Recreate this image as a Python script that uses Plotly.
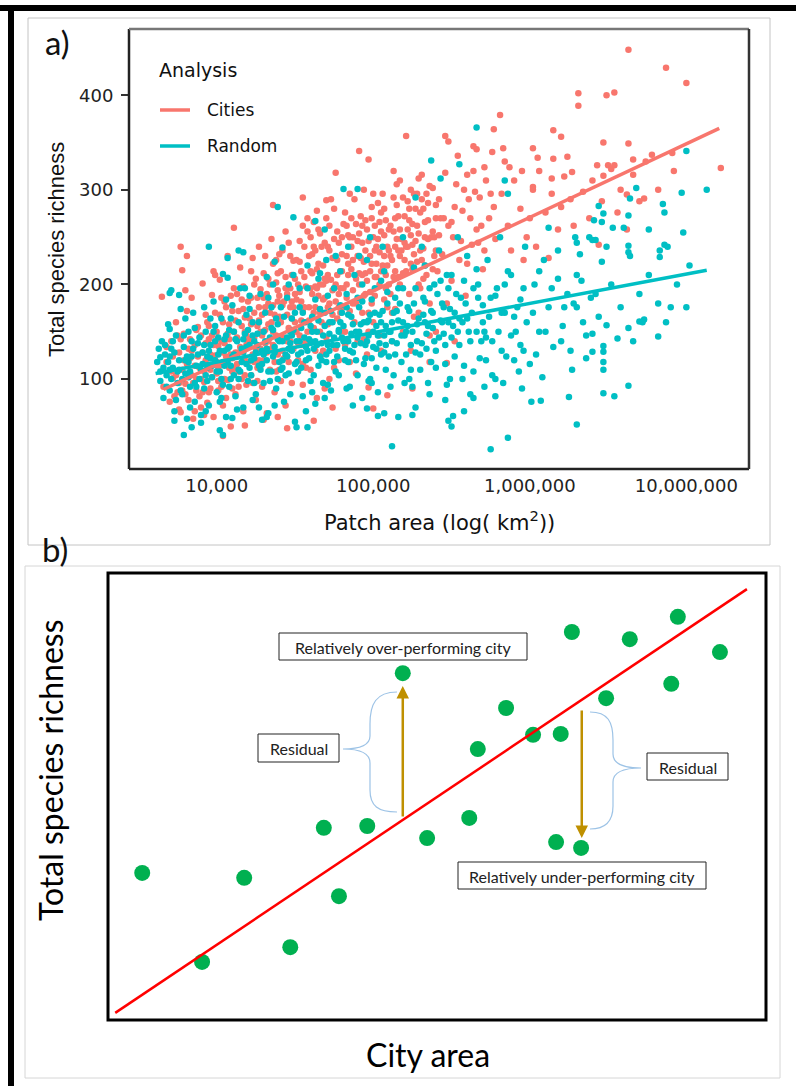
import plotly.graph_objects as go

W, H = 796, 1086
def px(x): return x / W
def py(y): return 1 - y / H

# ---------------- Panel a data: (log10 patch area km2, total species richness) ----------------
cities_points = [
    # sparse upper / right points
    (6.63,448),(6.87,429),(7.00,413),(6.31,402),(6.31,389),(6.49,400),(6.54,403),(5.81,379),(5.77,364),
    (6.15,363),(6.20,356),(5.46,357),(5.48,351),(5.21,357),(5.64,346),(5.66,343),(5.83,344),(6.02,344),
    (6.47,350),(6.63,349),(6.05,334),(6.15,333),(6.24,335),(6.78,337),(6.91,339),(6.66,332),(7.22,323),
    (5.71,324),(6.43,326),(6.50,326),(6.54,326),(5.95,320),(5.87,324),(5.60,316),(6.27,319),(6.14,312),
    (6.47,315),(6.62,295),(6.73,291),(6.02,303),(4.91,341),(4.97,332),(4.76,318),(5.13,320),(3.77,240),
    (3.81,230),(3.78,215),(3.65,187),(3.80,194),(3.91,201),(4.11,260),(4.36,284),(4.55,292),(4.70,289),
    (3.98,214),(4.07,230),(4.04,40),(4.18,51),(4.74,70),(4.30,57),(4.39,60),(4.62,56),(3.76,68),(3.92,62),
    (4.45,48),(5.00,69),(4.97,91),(5.09,83),(5.25,90),(5.36,118),(5.47,117),(5.52,140),(5.40,150),
    # 3.65 - 3.9
    (3.66,92),(3.68,118),(3.70,76),(3.71,140),(3.72,101),(3.74,160),(3.75,86),(3.76,128),(3.77,65),
    (3.78,110),(3.79,148),(3.80,95),(3.81,172),(3.82,78),(3.83,122),(3.84,104),(3.85,58),(3.86,136),
    (3.87,88),(3.88,155),(3.89,112),(3.90,70),(3.68,134),(3.73,82),(3.79,120),(3.84,186),(3.87,100),
    (3.71,108),(3.76,96),(3.83,142),(3.89,82),(3.86,66),
    # 3.9 - 4.2
    (3.91,128),(3.92,97),(3.93,168),(3.94,75),(3.95,142),(3.96,110),(3.97,189),(3.98,60),(3.99,125),
    (4.00,150),(4.01,88),(4.02,205),(4.03,115),(4.04,72),(4.05,138),(4.06,176),(4.07,99),(4.08,158),
    (4.09,50),(4.10,122),(4.11,196),(4.12,84),(4.13,144),(4.14,108),(4.15,218),(4.16,130),(4.17,66),
    (4.18,165),(4.19,94),(4.20,182),(3.93,120),(3.97,102),(4.01,135),(4.04,160),(4.08,112),(4.12,128),
    (4.16,100),(4.19,146),(3.95,86),(4.06,80),(4.14,172),(3.99,210),(4.03,92),(4.11,150),(4.17,198),
    (4.00,106),(4.09,188),(4.18,120),
    # 4.2 - 4.5
    (4.21,142),(4.22,104),(4.23,228),(4.24,170),(4.25,78),(4.26,156),(4.27,120),(4.28,195),(4.29,92),
    (4.30,212),(4.31,138),(4.32,64),(4.33,180),(4.34,110),(4.35,248),(4.36,150),(4.37,86),(4.38,202),
    (4.39,126),(4.40,166),(4.41,98),(4.42,236),(4.43,144),(4.44,72),(4.45,190),(4.46,118),(4.47,176),
    (4.48,210),(4.49,132),(4.50,160),(4.22,186),(4.25,132),(4.28,150),(4.31,176),(4.34,200),(4.37,168),
    (4.40,188),(4.43,122),(4.46,154),(4.49,225),(4.24,118),(4.29,168),(4.33,140),(4.38,108),(4.41,214),
    (4.45,140),(4.48,96),(4.27,240),(4.36,222),(4.44,256),(4.23,96),(4.32,128),(4.39,182),(4.47,196),
    # 4.5 - 4.8
    (4.51,184),(4.52,120),(4.53,246),(4.54,162),(4.55,94),(4.56,208),(4.57,140),(4.58,270),(4.59,176),
    (4.60,110),(4.61,232),(4.62,154),(4.63,198),(4.64,80),(4.65,258),(4.66,170),(4.67,126),(4.68,220),
    (4.69,186),(4.70,144),(4.71,240),(4.72,100),(4.73,205),(4.74,168),(4.75,280),(4.76,132),(4.77,226),
    (4.78,190),(4.79,150),(4.80,250),(4.52,200),(4.55,172),(4.58,150),(4.61,190),(4.64,216),(4.67,240),
    (4.70,204),(4.73,160),(4.76,182),(4.79,214),(4.54,136),(4.60,250),(4.66,200),(4.72,262),(4.78,120),
    (4.57,112),(4.63,130),(4.69,90),(4.75,112),(4.53,224),(4.62,266),(4.71,176),(4.77,256),
    # 4.8 - 5.1
    (4.81,196),(4.82,150),(4.83,262),(4.84,222),(4.85,118),(4.86,240),(4.87,180),(4.88,290),(4.89,206),
    (4.90,140),(4.91,254),(4.92,228),(4.93,170),(4.94,300),(4.95,212),(4.96,126),(4.97,246),(4.98,192),
    (4.99,270),(5.00,160),(5.01,236),(5.02,208),(5.03,286),(5.04,146),(5.05,256),(5.06,220),(5.07,184),
    (5.08,268),(5.09,240),(5.10,200),(4.83,230),(4.87,250),(4.91,200),(4.95,236),(4.99,222),(5.03,248),
    (5.07,230),(4.85,172),(4.93,262),(5.01,188),(5.09,176),(4.89,106),(4.97,150),(5.05,130),(4.82,276),
    (4.94,188),(5.06,296),(4.88,160),(5.00,250),
    # 5.1 - 5.4
    (5.11,262),(5.12,226),(5.13,292),(5.14,174),(5.15,248),(5.16,208),(5.17,310),(5.18,236),(5.19,150),
    (5.20,272),(5.21,214),(5.22,258),(5.23,190),(5.24,300),(5.25,242),(5.26,166),(5.27,280),(5.28,224),
    (5.29,254),(5.30,196),(5.31,316),(5.32,238),(5.33,266),(5.34,210),(5.35,286),(5.36,180),(5.37,250),
    (5.38,302),(5.39,230),(5.40,270),(5.14,240),(5.20,244),(5.26,232),(5.32,280),(5.38,216),(5.17,200),
    (5.23,268),(5.29,170),(5.35,248),(5.12,140),(5.24,130),(5.36,146),(5.15,284),(5.28,296),(5.40,236),
    # 5.4 - 5.8
    (5.42,290),(5.44,232),(5.46,318),(5.48,262),(5.50,204),(5.52,282),(5.54,336),(5.56,246),(5.58,300),
    (5.60,222),(5.62,270),(5.64,320),(5.66,258),(5.68,292),(5.70,216),(5.72,310),(5.74,270),(5.76,340),
    (5.78,248),(5.45,270),(5.51,250),(5.57,278),(5.63,242),(5.69,262),(5.75,296),(5.47,180),(5.59,188),
    (5.71,236),(5.53,306),(5.65,298),(5.77,282),
    # 5.8 - 6.3
    (5.82,296),(5.86,262),(5.90,310),(5.94,280),(5.98,250),(6.02,300),(6.06,320),(6.10,276),(6.14,296),
    (6.18,258),(6.22,314),(6.26,290),(5.88,236),(5.96,226),(6.04,240),(6.12,228),(6.20,282),(6.28,262),
    (5.84,330),(6.00,270),
    # 6.3 - 7.3
    (6.34,298),(6.40,310),(6.46,288),(6.52,322),(6.58,300),(6.66,316),(6.74,330),(6.82,300),(6.38,270),
    (6.56,276),(6.70,288),(6.92,320),(6.44,242),(6.62,258),
    # dense core, second reading
    (3.74,104),(3.77,142),(3.80,84),(3.82,132),(3.85,96),(3.88,124),(3.90,146),(3.92,108),(3.94,160),(3.96,90),
    (3.98,136),(4.00,118),(4.02,168),(4.03,140),(4.05,100),(4.07,148),(4.09,126),(4.10,172),(4.12,112),(4.13,190),
    (4.15,134),(4.16,156),(4.18,104),(4.20,140),(4.21,164),(4.23,126),(4.24,200),(4.26,112),(4.27,176),(4.29,146),
    (4.30,120),(4.32,190),(4.33,158),(4.35,132),(4.36,178),(4.38,146),(4.39,212),(4.41,160),(4.42,130),(4.44,196),
    (4.45,168),(4.47,140),(4.48,182),(4.50,206),(4.51,150),(4.53,192),(4.54,214),(4.56,176),(4.57,160),(4.59,230),
    (4.60,196),(4.62,170),(4.63,236),(4.65,188),(4.66,150),(4.68,200),(4.69,244),(4.71,210),(4.72,180),(4.74,228),
    (4.75,196),(4.77,164),(4.78,244),(4.80,214),(4.81,176),(4.83,200),(4.84,252),(4.86,216),(4.87,194),(4.89,264),
    (4.90,230),(4.92,184),(4.93,244),(4.95,268),(4.96,204),(4.98,230),(4.99,180),(5.01,262),(5.02,222),(5.04,200),
    (5.05,276),(5.07,252),(5.08,210),(5.10,236),(5.11,190),(5.13,256),(5.14,214),(5.16,272),(5.18,248),(5.19,212),
    (5.21,240),(5.22,288),(5.24,222),(5.25,264),(5.27,246),(5.29,200),(5.30,276),(5.31,226),(5.33,250),(5.34,296),
    (4.05,182),(4.22,214),(4.31,230),(4.46,244),(4.58,256),(4.64,278),(4.73,290),(4.85,296),(4.10,90),(4.26,98),
    (4.40,110),(4.55,116),(4.68,130),(4.82,136),(4.94,142),(5.12,170),(3.95,156),(4.17,174),(4.43,182),(4.61,212),
    (4.76,200),(4.91,212),(5.04,234),(5.17,230),(5.32,206),(5.42,252),(5.50,266),(5.55,226),(5.61,290),(5.67,244),
    (3.86,114),(3.91,86),(4.01,98),(4.14,92),(4.28,132),(4.37,118),(4.52,138),(4.67,160),(4.79,170),(4.97,170),
    # dense core, third reading
    (3.72,124),(3.75,146),(3.78,88),(3.81,116),(3.84,130),(3.87,152),(3.90,100),(3.93,138),(3.96,126),(3.99,170),
    (4.01,112),(4.03,186),(4.06,124),(4.08,142),(4.10,108),(4.12,162),(4.14,128),(4.16,184),(4.18,150),(4.20,118),
    (4.22,158),(4.24,144),(4.25,206),(4.27,162),(4.28,114),(4.30,186),(4.31,152),(4.33,206),(4.34,170),(4.36,136),
    (4.38,226),(4.39,194),(4.41,142),(4.42,178),(4.44,208),(4.45,124),(4.47,230),(4.48,164),(4.50,190),(4.51,226),
    (4.53,146),(4.54,182),(4.56,240),(4.57,198),(4.59,162),(4.60,214),(4.62,240),(4.63,176),(4.65,222),(4.66,254),
    (4.68,184),(4.69,206),(4.71,158),(4.72,236),(4.74,194),(4.75,248),(4.77,210),(4.78,176),(4.80,232),(4.81,264),
    (4.83,186),(4.84,210),(4.86,270),(4.87,226),(4.89,180),(4.90,246),(4.92,272),(4.93,210),(4.95,190),(4.96,258),
    (4.98,214),(4.99,282),(5.01,208),(5.02,240),(5.04,266),(5.05,214),(5.07,280),(5.08,196),(5.10,258),(5.11,230),
    (5.13,208),(5.14,270),(5.16,236),(5.17,258),(5.19,292),(5.20,226),(5.22,240),(5.23,280),(5.25,216),(5.26,296),
    (5.28,262),(5.30,236),(5.31,290),(5.33,220),(5.35,268),(5.36,304),(5.38,256),(5.40,284),(5.41,214),(5.43,270),
    (4.04,128),(4.19,136),(4.35,160),(4.49,176),(4.64,196),(4.79,196),(4.94,224),(5.09,220),(5.24,252),(5.39,250),
    (3.97,146),(4.13,116),(4.26,186),(4.40,232),(4.55,262),(4.70,270),(4.85,250),(5.00,296),(5.15,306),(5.29,312),
]

random_points = [
    # sparse / outlying points
    (5.66,366),(5.37,331),(5.55,327),(7.00,341),(6.68,302),(7.13,300),(6.97,297),(5.43,312),(5.84,310),
    (5.86,296),(6.64,291),(6.85,285),(6.86,276),(6.44,283),(6.47,275),(6.63,273),(6.98,255),(6.76,258),
    (6.86,242),(6.83,229),(6.83,236),(6.63,234),(6.63,241),(6.40,247),(6.42,247),(6.53,260),(6.29,250),
    (6.30,244),(6.49,240),(6.41,268),(6.46,266),(7.00,176),(6.87,160),(6.70,161),(6.73,163),(6.63,154),
    (6.66,140),(6.82,145),(6.56,143),(6.49,157),(6.40,148),(6.47,135),(6.47,129),(6.40,129),(6.47,118),
    (6.47,110),(6.63,93),(6.47,85),(6.54,82),(6.30,52),(6.25,81),(5.86,38),(5.75,26),(6.07,77),(6.01,76),
    (5.78,82),(5.62,84),(5.64,80),(5.58,66),(5.51,61),(5.48,56),(5.50,50),(5.46,78),(5.27,70),(5.25,62),
    (5.12,29),(5.16,60),(5.07,64),(5.03,61),(4.96,69),(3.79,41),(4.04,41),(3.70,153),(3.64,123),(3.84,49),
    (3.90,54),(4.02,46),(4.10,59),(4.29,57),(4.32,60),(4.50,55),(4.58,49),(4.51,49),(3.95,240),(4.39,282),
    (4.49,271),(4.63,267),(4.69,258),(4.14,236),(4.17,234),(3.71,194),(3.76,189),(3.70,191),(4.07,228),
    (4.04,211),(4.07,207),(4.42,239),(4.37,224),(4.81,301),(4.90,301),(5.27,292),
    # 3.6 - 3.9
    (3.62,118),(3.64,98),(3.65,140),(3.66,80),(3.67,126),(3.68,104),(3.69,158),(3.70,88),(3.71,132),
    (3.72,112),(3.73,66),(3.74,146),(3.75,96),(3.76,120),(3.77,174),(3.78,84),(3.79,134),(3.80,106),
    (3.81,58),(3.82,150),(3.83,92),(3.84,124),(3.85,170),(3.86,76),(3.87,114),(3.88,138),(3.89,100),
    (3.90,62),(3.70,110),(3.78,100),(3.86,154),(3.63,132),(3.74,78),(3.82,118),
    # 3.9 - 4.2
    (3.91,128),(3.92,90),(3.93,150),(3.94,112),(3.95,72),(3.96,136),(3.97,102),(3.98,182),(3.99,120),
    (4.00,86),(4.01,144),(4.02,108),(4.03,164),(4.04,94),(4.05,130),(4.06,60),(4.07,118),(4.08,152),
    (4.09,100),(4.10,178),(4.11,126),(4.12,82),(4.13,140),(4.14,110),(4.15,196),(4.16,132),(4.17,70),
    (4.18,148),(4.19,116),(4.20,98),(3.94,124),(3.99,140),(4.05,114),(4.11,104),(4.17,128),(4.02,76),
    (4.14,160),(3.96,164),(4.08,134),(4.19,168),
    # 4.2 - 4.5
    (4.21,136),(4.22,104),(4.23,160),(4.24,122),(4.25,84),(4.26,148),(4.27,114),(4.28,190),(4.29,130),
    (4.30,96),(4.31,170),(4.32,120),(4.33,64),(4.34,144),(4.35,108),(4.36,200),(4.37,134),(4.38,90),
    (4.39,158),(4.40,118),(4.41,176),(4.42,140),(4.43,76),(4.44,126),(4.45,186),(4.46,106),(4.47,150),
    (4.48,130),(4.49,210),(4.50,116),(4.24,140),(4.30,126),(4.36,152),(4.42,112),(4.48,164),(4.27,70),
    (4.39,100),(4.45,144),(4.33,186),(4.21,174),
    # 4.5 - 4.8
    (4.51,140),(4.52,108),(4.53,176),(4.54,128),(4.55,82),(4.56,160),(4.57,120),(4.58,196),(4.59,142),
    (4.60,98),(4.61,166),(4.62,132),(4.63,74),(4.64,150),(4.65,114),(4.66,212),(4.67,138),(4.68,96),
    (4.69,170),(4.70,126),(4.71,188),(4.72,148),(4.73,88),(4.74,160),(4.75,118),(4.76,230),(4.77,136),
    (4.78,104),(4.79,178),(4.80,144),(4.54,154),(4.60,140),(4.66,124),(4.72,130),(4.78,152),(4.57,66),
    (4.69,80),(4.75,196),(4.63,184),
    # 4.8 - 5.1
    (4.81,156),(4.82,120),(4.83,190),(4.84,140),(4.85,92),(4.86,166),(4.87,128),(4.88,210),(4.89,150),
    (4.90,104),(4.91,176),(4.92,138),(4.93,80),(4.94,160),(4.95,122),(4.96,226),(4.97,146),(4.98,100),
    (4.99,184),(5.00,134),(5.01,196),(5.02,156),(5.03,86),(5.04,168),(5.05,126),(5.06,240),(5.07,146),
    (5.08,110),(5.09,180),(5.10,150),(4.84,168),(4.90,144),(4.96,160),(5.02,132),(5.08,136),(4.87,72),
    (4.99,96),(5.05,204),(4.93,200),
    # 5.1 - 5.5
    (5.12,160),(5.14,126),(5.16,196),(5.18,146),(5.20,96),(5.22,176),(5.24,136),(5.26,218),(5.28,158),
    (5.30,110),(5.32,186),(5.34,148),(5.36,84),(5.38,170),(5.40,130),(5.42,236),(5.44,160),(5.46,116),
    (5.48,196),(5.50,144),(5.15,172),(5.21,150),(5.27,128),(5.33,160),(5.39,200),(5.45,176),(5.13,104),
    (5.25,92),(5.37,118),(5.49,100),(5.19,250),(5.31,240),(5.43,204),
    # 5.5 - 6.0
    (5.52,170),(5.55,136),(5.58,204),(5.61,150),(5.64,108),(5.67,186),(5.70,160),(5.73,226),(5.76,140),
    (5.79,196),(5.82,170),(5.85,124),(5.88,210),(5.91,150),(5.94,184),(5.97,240),(5.54,250),(5.60,230),
    (5.66,216),(5.72,120),(5.78,100),(5.84,200),(5.90,166),(5.96,130),(5.57,160),(5.69,140),(5.81,250),
    (5.93,108),
    # 6.0 - 6.5
    (6.02,170),(6.06,214),(6.10,150),(6.14,196),(6.18,236),(6.22,176),(6.26,130),(6.30,210),(6.34,160),
    (6.38,250),(6.42,190),(6.46,224),(6.04,126),(6.12,260),(6.20,140),(6.28,180),(6.36,122),(6.44,166),
    (6.08,102),(6.32,232),
    # 6.5 - 7.1
    (6.52,200),(6.58,176),(6.64,230),(6.70,190),(6.76,210),(6.82,180),(6.88,240),(6.94,200),(7.02,220),
    (6.60,260),(6.72,160),(6.90,176),
    # dense core, second reading
    (3.66,112),(3.68,92),(3.70,124),(3.72,140),(3.75,108),(3.77,88),(3.80,120),(3.82,102),(3.84,140),(3.86,96),
    (3.88,126),(3.90,110),(3.92,136),(3.94,98),(3.96,122),(3.98,150),(4.00,108),(4.02,130),(4.04,118),(4.06,146),
    (4.08,92),(4.10,124),(4.12,142),(4.14,100),(4.16,118),(4.18,132),(4.20,152),(4.22,120),(4.24,96),(4.26,136),
    (4.28,110),(4.30,150),(4.32,132),(4.34,98),(4.36,124),(4.38,164),(4.40,140),(4.42,120),(4.44,104),(4.46,132),
    (4.48,146),(4.50,170),(4.52,126),(4.54,112),(4.56,144),(4.58,130),(4.60,156),(4.62,104),(4.64,136),(4.66,174),
    (4.68,146),(4.70,118),(4.72,160),(4.74,136),(4.76,108),(4.78,150),(4.80,170),(4.82,132),(4.84,118),(4.86,148),
    (4.88,136),(4.90,186),(4.92,158),(4.94,116),(4.96,140),(4.98,168),(5.00,150),(5.02,112),(5.04,138),(5.06,172),
    (5.08,156),(5.10,124),(5.12,140),(5.14,186),(5.16,162),(5.18,118),(5.20,146),(5.22,156),(5.24,110),(5.26,180),
    (5.28,140),(5.30,126),(5.32,168),(5.34,132),(5.36,196),(5.38,154),(5.40,112),(5.42,144),(5.44,180),(5.46,136),
    (5.48,160),(5.50,210),(5.52,124),(5.54,150),(5.56,186),(5.58,114),(5.60,164),(5.62,140),(5.64,196),(5.66,150),
    (5.68,122),(5.70,178),(5.72,144),(5.74,166),(5.76,104),(5.78,188),(5.80,150),(5.82,130),(5.84,170),(5.86,214),
    (5.88,146),(5.90,120),(5.92,176),(5.94,136),(5.96,196),(5.98,160),(6.00,116),(6.03,200),(6.06,150),(6.09,226),
    (6.12,176),(6.15,134),(6.18,206),(6.21,156),(6.24,190),(6.27,110),(6.30,176),(6.33,204),(6.36,146),(6.39,186),
    (3.73,56),(3.83,70),(3.93,66),(4.03,80),(4.13,68),(4.23,78),(4.37,72),(4.47,84),(4.61,86),(4.71,94),
    (4.83,90),(4.97,98),(5.11,92),(5.23,100),(5.35,96),(5.47,94),(5.57,100),(5.71,92),(5.83,96),(5.95,90),
    (4.09,164),(4.21,188),(4.35,176),(4.53,196),(4.65,206),(4.79,214),(4.91,230),(5.07,214),(5.19,196),(5.33,220),
    # dense core, third reading
    (3.64,108),(3.67,136),(3.69,118),(3.71,100),(3.73,128),(3.76,110),(3.79,146),(3.81,124),(3.83,108),(3.85,132),
    (3.87,92),(3.89,144),(3.91,116),(3.93,104),(3.95,130),(3.97,114),(3.99,156),(4.01,126),(4.03,100),(4.05,142),
    (4.07,132),(4.09,114),(4.11,150),(4.13,124),(4.15,108),(4.17,142),(4.19,134),(4.21,112),(4.23,146),(4.25,128),
    (4.27,160),(4.29,116),(4.31,140),(4.33,108),(4.35,154),(4.37,128),(4.39,142),(4.41,110),(4.43,166),(4.45,124),
    (4.47,138),(4.49,152),(4.51,118),(4.53,140),(4.55,170),(4.57,134),(4.59,122),(4.61,150),(4.63,140),(4.65,162),
    (4.67,120),(4.69,156),(4.71,136),(4.73,172),(4.75,144),(4.77,124),(4.79,160),(4.81,140),(4.83,176),(4.85,130),
    (4.87,158),(4.89,120),(4.91,150),(4.93,182),(4.95,136),(4.97,162),(4.99,122),(5.01,170),(5.03,146),(5.05,160),
    (5.07,128),(5.09,192),(5.11,150),(5.13,170),(5.15,138),(5.17,180),(5.19,160),(5.21,126),(5.23,172),(5.25,150),
    (5.27,196),(5.29,164),(5.31,138),(5.33,182),(5.35,156),(5.37,172),(5.39,140),(5.41,190),(5.43,162),(5.45,148),
    (5.47,210),(5.49,174),(5.51,156),(5.53,190),(5.55,164),(5.59,180),(5.63,170),(5.67,200),(5.71,150),(5.75,186),
    (3.80,164),(3.92,176),(4.06,184),(4.18,196),(4.32,208),(4.46,200),(4.58,220),(4.70,226),(4.84,240),(4.98,250),
]

cities_fit_log = [3.66, 7.21]
cities_fit_y = [89, 365]
random_fit_log = [3.61, 7.13]
random_fit_y = [106, 215]

x_tick_vals = [1e4, 1e5, 1e6, 1e7]
x_tick_text = ["10,000", "100,000", "1,000,000", "10,000,000"]
y_tick_vals = [100, 200, 300, 400]

# ---------------- Panel b data (schematic units 0-100) ----------------
city_area = [5.2, 14.3, 20.7, 27.7, 32.8, 35.1, 39.4, 44.8, 48.5, 54.9, 56.2,
             60.5, 64.6, 68.8, 68.1, 71.9, 70.5, 75.7, 79.3, 85.6, 86.6, 93.0]
city_richness = [32.9, 13.0, 31.8, 16.3, 43.0, 27.7, 43.4, 77.6, 40.7, 45.2, 60.6,
                 69.8, 63.8, 64.0, 39.8, 38.5, 86.8, 72.0, 85.2, 75.2, 90.2, 82.3]
fit_b_x = [1.1, 97.1]
fit_b_y = [1.6, 96.4]
over_city = (44.8, 45.2, 74.7)    # x, residual start, residual end
under_city = (72.0, 69.6, 40.7)

RED = "#F8766D"
TEAL = "#00BFC4"

fig = go.Figure()

fig.add_trace(go.Scatter(
    x=[10 ** a for a, _ in cities_points], y=[r for _, r in cities_points],
    mode="markers", marker=dict(color=RED, size=6.5, line=dict(width=0)),
    xaxis="x", yaxis="y", showlegend=False, hoverinfo="skip"))
fig.add_trace(go.Scatter(
    x=[10 ** a for a, _ in random_points], y=[r for _, r in random_points],
    mode="markers", marker=dict(color=TEAL, size=6.5, line=dict(width=0)),
    xaxis="x", yaxis="y", showlegend=False, hoverinfo="skip"))
fig.add_trace(go.Scatter(
    x=[10 ** a for a in cities_fit_log], y=cities_fit_y, mode="lines",
    line=dict(color=RED, width=3.5), xaxis="x", yaxis="y", showlegend=False, hoverinfo="skip"))
fig.add_trace(go.Scatter(
    x=[10 ** a for a in random_fit_log], y=random_fit_y, mode="lines",
    line=dict(color=TEAL, width=3.5), xaxis="x", yaxis="y", showlegend=False, hoverinfo="skip"))

# panel b
fig.add_trace(go.Scatter(
    x=city_area, y=city_richness, mode="markers",
    marker=dict(color="#00B050", size=16, line=dict(width=0)),
    xaxis="x2", yaxis="y2", showlegend=False, hoverinfo="skip"))
fig.add_trace(go.Scatter(
    x=fit_b_x, y=fit_b_y, mode="lines", line=dict(color="#FF0000", width=2.5),
    xaxis="x2", yaxis="y2", showlegend=False, hoverinfo="skip"))

shapes = []
# outer black frame pieces
shapes.append(dict(type="rect", xref="paper", yref="paper", x0=px(0), x1=px(796), y0=py(11), y1=py(5),
                   fillcolor="black", line=dict(width=0)))
shapes.append(dict(type="rect", xref="paper", yref="paper", x0=px(8), x1=px(14), y0=py(1086), y1=py(5),
                   fillcolor="black", line=dict(width=0)))
# panel boxes
shapes.append(dict(type="rect", xref="paper", yref="paper", x0=px(28), x1=px(770), y0=py(545), y1=py(18),
                   line=dict(color="#c4c4c4", width=1)))
shapes.append(dict(type="rect", xref="paper", yref="paper", x0=px(25), x1=px(780), y0=py(1078), y1=py(566),
                   line=dict(color="#d6d6d6", width=1)))
# panel a plot frame
for (x0, y0, x1, y1, c) in [(0, 0, 0, 1, "#222"), (0, 0, 1, 0, "#222"), (0, 1, 1, 1, "#777"), (1, 0, 1, 1, "#333")]:
    shapes.append(dict(type="line", xref="x domain", yref="y domain", x0=x0, y0=y0, x1=x1, y1=y1,
                       line=dict(color=c, width=2.5)))
# panel b plot frame
shapes.append(dict(type="rect", xref="x2 domain", yref="y2 domain", x0=0, x1=1, y0=0, y1=1,
                   line=dict(color="black", width=3)))
# legend keys
shapes.append(dict(type="line", xref="paper", yref="paper", x0=px(160), x1=px(190), y0=py(110), y1=py(110),
                   line=dict(color=RED, width=3.5)))
shapes.append(dict(type="line", xref="paper", yref="paper", x0=px(160), x1=px(190), y0=py(146), y1=py(146),
                   line=dict(color=TEAL, width=3.5)))

def brace(pts):
    cmds = []
    for c, coords in pts:
        cmds.append(c + " " + " ".join(f"{px(x):.5f},{py(y):.5f}" for x, y in coords))
    return " ".join(cmds)

left_brace = [("M", [(397, 692)]), ("C", [(376, 692), (370, 704), (370, 724)]), ("L", [(370, 736)]),
              ("C", [(370, 745), (361, 749), (343, 749)]), ("C", [(361, 749), (370, 753), (370, 763)]),
              ("L", [(370, 790)]), ("C", [(370, 806), (378, 812), (397, 812)])]
right_brace = [("M", [(590, 712)]), ("C", [(608, 712), (613, 722), (613, 740)]), ("L", [(613, 754)]),
               ("C", [(613, 764), (624, 768), (641, 768)]), ("C", [(624, 768), (613, 772), (613, 782)]),
               ("L", [(613, 806)]), ("C", [(613, 821), (606, 829), (590, 829)])]
for b in (left_brace, right_brace):
    shapes.append(dict(type="path", xref="paper", yref="paper", path=brace(b),
                       line=dict(color="#9DC3E6", width=1.2)))

# label boxes
label_boxes = [
    ("Relatively over-performing city", 279, 527, 633, 660),
    ("Residual", 258, 339, 734, 762),
    ("Residual", 647, 728, 753, 780),
    ("Relatively under-performing city", 458, 706, 862, 889),
]
annotations = []
for text, x0, x1, y0, y1 in label_boxes:
    shapes.append(dict(type="rect", xref="paper", yref="paper", x0=px(x0), x1=px(x1), y0=py(y1), y1=py(y0),
                       fillcolor="white", line=dict(color="#222", width=1)))
    annotations.append(dict(xref="paper", yref="paper", x=px((x0 + x1) / 2), y=py((y0 + y1) / 2 + 0.5),
                            text=text, showarrow=False, xanchor="center", yanchor="middle",
                            font=dict(family="Lato", size=16, color="#222")))

# residual arrows
for (xx, y_from, y_to) in (over_city, under_city):
    annotations.append(dict(xref="x2", yref="y2", axref="x2", ayref="y2", x=xx, y=y_to, ax=xx, ay=y_from,
                            text="", showarrow=True, arrowhead=2, arrowsize=1.0, arrowwidth=2.5,
                            arrowcolor="#BF9000", standoff=0, startstandoff=0))

# titles and texts
annotations += [
    dict(xref="paper", yref="paper", x=px(57), y=py(42), text="a)", showarrow=False,
         font=dict(family="Lato", size=33, color="#111"), xanchor="center", yanchor="middle"),
    dict(xref="paper", yref="paper", x=px(55), y=py(549), text="b)", showarrow=False,
         font=dict(family="Lato", size=33, color="#111"), xanchor="center", yanchor="middle"),
    dict(xref="paper", yref="paper", x=px(57), y=py(250), text="Total species richness", showarrow=False,
         textangle=-90, font=dict(family="Liberation Sans", size=22, color="#111"),
         xanchor="center", yanchor="middle"),
    dict(xref="paper", yref="paper", x=px(440), y=py(521), text="Patch area (log( km<sup>2</sup>))",
         showarrow=False, font=dict(family="DejaVu Sans", size=21, color="#111"),
         xanchor="center", yanchor="middle"),
    dict(xref="paper", yref="paper", x=px(157), y=py(70), text="Analysis", showarrow=False,
         font=dict(family="DejaVu Sans", size=19, color="#111"), xanchor="left", yanchor="middle"),
    dict(xref="paper", yref="paper", x=px(205), y=py(110), text="Cities", showarrow=False,
         font=dict(family="DejaVu Sans", size=17, color="#111"), xanchor="left", yanchor="middle"),
    dict(xref="paper", yref="paper", x=px(205), y=py(146), text="Random", showarrow=False,
         font=dict(family="DejaVu Sans", size=17, color="#111"), xanchor="left", yanchor="middle"),
    dict(xref="paper", yref="paper", x=px(50), y=py(770), text="Total species richness", showarrow=False,
         textangle=-90, font=dict(family="Lato", size=32, color="#000"), xanchor="center", yanchor="middle"),
    dict(xref="paper", yref="paper", x=px(428), y=py(1054), text="City area", showarrow=False,
         font=dict(family="Lato", size=32, color="#000"), xanchor="center", yanchor="middle"),
]

fig.update_layout(
    width=W, height=H, margin=dict(l=0, r=0, t=0, b=0),
    paper_bgcolor="white", plot_bgcolor="white",
    xaxis=dict(domain=[px(129), px(749)], type="log", range=[3.44, 7.40], anchor="y",
               tickvals=x_tick_vals, ticktext=x_tick_text, ticks="", showgrid=False, zeroline=False,
               showline=False, tickfont=dict(family="DejaVu Sans", size=18, color="#222"),
               ticklabelstandoff=4),
    yaxis=dict(domain=[py(469), py(29)], range=[5, 470], anchor="x", tickvals=y_tick_vals,
               ticks="outside", ticklen=7, tickwidth=2, tickcolor="#333", showgrid=False,
               zeroline=False, showline=False, tickfont=dict(family="DejaVu Sans", size=18, color="#222"),
               ticklabelstandoff=4),
    xaxis2=dict(domain=[px(108), px(766)], range=[0, 100], anchor="y2", visible=False),
    yaxis2=dict(domain=[py(1020), py(573)], range=[0, 100], anchor="x2", visible=False),
    shapes=shapes, annotations=annotations,
)

fig.write_html("out.html", config={"displayModeBar": False},
               post_script="document.body.style.margin='0px';")
